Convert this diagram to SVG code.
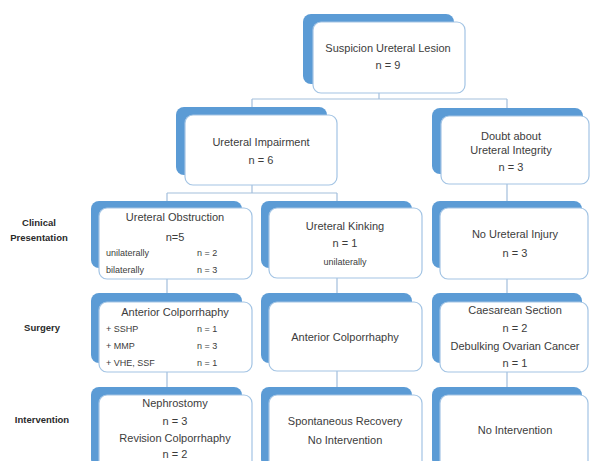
<svg xmlns="http://www.w3.org/2000/svg" width="590" height="461" viewBox="0 0 590 461">
<style>
.bk{fill:#5b9bd5}
.fr{fill:#fff;stroke:#a3c4e4;stroke-width:1.2}
.t{font-family:"Liberation Sans",Arial,sans-serif;font-size:11px;fill:#3c3c3c;text-anchor:middle}
.s{font-family:"Liberation Sans",Arial,sans-serif;font-size:9px;fill:#3c3c3c}
.lb{font-family:"Liberation Sans",Arial,sans-serif;font-size:9.5px;font-weight:bold;fill:#2a2a2a;text-anchor:middle}
.cn{fill:none;stroke:#a3bfdc;stroke-width:1.2}
</style>
<rect width="590" height="461" fill="#fff"/>
<g id="connectors">
<path class="cn" d="M379 93V99M252 99H507M252 99V107M507 99V108M252 185V193M167 193H337M167 193V201M337 193V201M507 184V201M167 279V293M337 278V293M507 279V293M167 372V387M337 371V387M507 372V387"/>
</g>
<g id="labels">
<text class="lb" x="39" y="226">Clinical</text>
<text class="lb" x="39" y="241">Presentation</text>
<text class="lb" x="42" y="331">Surgery</text>
<text class="lb" x="42" y="423">Intervention</text>
</g>
<g id="n-suspicion">
<rect class="bk" x="303" y="14" width="151" height="70" rx="8"/>
<rect class="fr" x="313" y="22" width="152" height="71" rx="8"/>
<text class="t" x="388" y="52">Suspicion Ureteral Lesion</text>
<text class="t" x="388" y="69">n = 9</text>
</g>
<g id="n-impairment">
<rect class="bk" x="176" y="107" width="151" height="68" rx="8"/>
<rect class="fr" x="185" y="115" width="152" height="70" rx="8"/>
<text class="t" x="261" y="146">Ureteral Impairment</text>
<text class="t" x="261" y="164">n = 6</text>
</g>
<g id="n-doubt">
<rect class="bk" x="432" y="108" width="151" height="66" rx="8"/>
<rect class="fr" x="441" y="116" width="148" height="68" rx="8"/>
<text class="t" x="511" y="140">Doubt about</text>
<text class="t" x="511" y="154">Ureteral Integrity</text>
<text class="t" x="511" y="171">n = 3</text>
</g>
<g id="n-obstruction">
<rect class="bk" x="91" y="201" width="151" height="67" rx="8"/>
<rect class="fr" x="99" y="208" width="153" height="71" rx="8"/>
<text class="t" x="175" y="221">Ureteral Obstruction</text>
<text class="t" x="175" y="241">n=5</text>
<text class="s" x="106" y="256">unilaterally</text>
<text class="s" x="197" y="256">n = 2</text>
<text class="s" x="106" y="273">bilaterally</text>
<text class="s" x="197" y="273">n = 3</text>
</g>
<g id="n-kinking">
<rect class="bk" x="261" y="201" width="151" height="67" rx="8"/>
<rect class="fr" x="269" y="208" width="153" height="70" rx="8"/>
<text class="t" x="345" y="230">Ureteral Kinking</text>
<text class="t" x="345" y="247">n = 1</text>
<text class="s" x="345" y="265" text-anchor="middle">unilaterally</text>
</g>
<g id="n-noinjury">
<rect class="bk" x="432" y="201" width="150" height="67" rx="8"/>
<rect class="fr" x="440" y="208" width="148" height="71" rx="8"/>
<text class="t" x="515" y="238">No Ureteral Injury</text>
<text class="t" x="515" y="257">n = 3</text>
</g>
<g id="n-anterior1">
<rect class="bk" x="91" y="293" width="151" height="70" rx="8"/>
<rect class="fr" x="99" y="302" width="153" height="70" rx="8"/>
<text class="t" x="175" y="316">Anterior Colporrhaphy</text>
<text class="s" x="106" y="332">+ SSHP</text>
<text class="s" x="197" y="332">n = 1</text>
<text class="s" x="106" y="349">+ MMP</text>
<text class="s" x="197" y="349">n = 3</text>
<text class="s" x="106" y="366">+ VHE, SSF</text>
<text class="s" x="197" y="366">n = 1</text>
</g>
<g id="n-anterior2">
<rect class="bk" x="261" y="293" width="151" height="70" rx="8"/>
<rect class="fr" x="269" y="302" width="153" height="69" rx="8"/>
<text class="t" x="345" y="341">Anterior Colporrhaphy</text>
</g>
<g id="n-caesarean">
<rect class="bk" x="432" y="293" width="150" height="70" rx="8"/>
<rect class="fr" x="440" y="302" width="148" height="70" rx="8"/>
<text class="t" x="515" y="314">Caesarean Section</text>
<text class="t" x="515" y="332">n = 2</text>
<text class="t" x="515" y="350">Debulking Ovarian Cancer</text>
<text class="t" x="515" y="367">n = 1</text>
</g>
<g id="n-nephrostomy">
<rect class="bk" x="91" y="387" width="151" height="80" rx="8"/>
<rect class="fr" x="99" y="395" width="153" height="80" rx="8"/>
<text class="t" x="175" y="407">Nephrostomy</text>
<text class="t" x="175" y="425">n = 3</text>
<text class="t" x="175" y="442">Revision Colporrhaphy</text>
<text class="t" x="175" y="458">n = 2</text>
</g>
<g id="n-spontaneous">
<rect class="bk" x="261" y="387" width="151" height="80" rx="8"/>
<rect class="fr" x="269" y="395" width="153" height="80" rx="8"/>
<text class="t" x="345" y="425">Spontaneous Recovery</text>
<text class="t" x="345" y="444">No Intervention</text>
</g>
<g id="n-nointervention">
<rect class="bk" x="432" y="387" width="150" height="80" rx="8"/>
<rect class="fr" x="440" y="395" width="148" height="80" rx="8"/>
<text class="t" x="515" y="434">No Intervention</text>
</g>
</svg>
